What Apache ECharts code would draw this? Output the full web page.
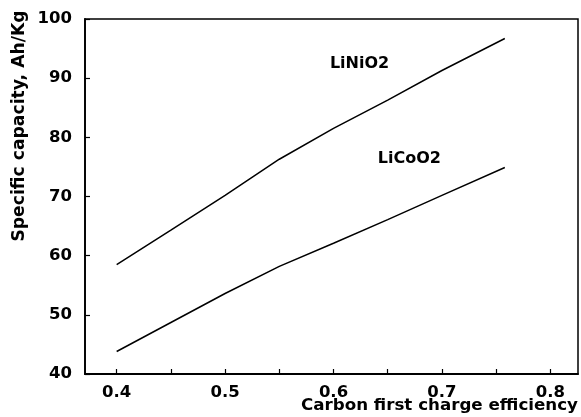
<!DOCTYPE html>
<html>
<head>
<meta charset="utf-8">
<script src="https://cdn.jsdelivr.net/npm/echarts@6/dist/echarts.min.js"></script>
<style>html,body{margin:0;padding:0;background:#fff}#c{width:581px;height:417px}</style>
</head>
<body>
<div id="c"></div>
<script>
const xValues = [0.40, 0.45, 0.50, 0.55, 0.60, 0.65, 0.70, 0.758];
const liNiO2 = [58.5, 64.3, 70.2, 76.3, 81.5, 86.3, 91.3, 96.7];
const liCoO2 = [43.8, 48.7, 53.6, 58.2, 62.1, 66.1, 70.2, 74.9];
const xTickLabels = [0.4, 0.5, 0.6, 0.7, 0.8];
const xMinorTicks = [0.4, 0.45, 0.5, 0.55, 0.6, 0.65, 0.7, 0.75, 0.8];
const yTicks = [40, 50, 60, 70, 80, 90, 100];
const seriesNames = ['LiNiO2', 'LiCoO2'];
const labelPos = [[0.624, 92.4], [0.670, 76.3]];
const xTitle = 'Carbon first charge efficiency';
const yTitle = 'Specific capacity, Ah/Kg';

const FONT = 'DejaVu Sans';
const chart = echarts.init(document.getElementById('c'));
const mk = (vals) => xValues.map((x, i) => [x, vals[i]]);
const lineSeries = (name, vals, pos) => ({
  name, type: 'line', data: mk(vals), symbol: 'none', smooth: false,
  lineStyle: { color: '#000', width: 1.5 },
  markPoint: {
    symbol: 'circle', symbolSize: 0,
    data: [{ coord: pos }],
    label: { show: true, formatter: name, color: '#000', fontFamily: FONT, fontWeight: 'bold', fontSize: 16, position: 'inside' }
  },
  silent: true
});
chart.setOption({
  animation: false,
  grid: { left: 85, right: 3, top: 19, bottom: 43, show: true, borderColor: '#000', borderWidth: 1.5, backgroundColor: 'transparent' },
  xAxis: {
    type: 'value', min: 0.3708, max: 0.8255,
    axisLine: { lineStyle: { color: '#000', width: 1.8 } },
    splitLine: { show: false },
    axisTick: { inside: true, length: 5, lineStyle: { color: '#000', width: 1.2 }, customValues: xMinorTicks },
    axisLabel: { customValues: xTickLabels, formatter: v => v.toFixed(1), color: '#000', fontFamily: FONT, fontWeight: 'bold', fontSize: 16.5, margin: 10 }
  },
  yAxis: {
    type: 'value', min: 40, max: 100, interval: 10,
    axisLine: { show: true, lineStyle: { color: '#000', width: 1.8 } },
    splitLine: { show: false },
    axisTick: { show: true, inside: true, length: 5, lineStyle: { color: '#000', width: 1.2 }, customValues: yTicks },
    axisLabel: { color: '#000', fontFamily: FONT, fontWeight: 'bold', fontSize: 16.5, margin: 13 }
  },
  graphic: [
    { type: 'text', right: 3, top: 397, style: { text: xTitle, fill: '#000', font: 'bold 16.7px "DejaVu Sans"' } },
    { type: 'text', x: 20, y: 126, rotation: Math.PI / 2, style: { text: yTitle, fill: '#000', font: 'bold 17.2px "DejaVu Sans"', textAlign: 'center', textVerticalAlign: 'middle' } }
  ],
  series: [
    lineSeries(seriesNames[0], liNiO2, labelPos[0]),
    lineSeries(seriesNames[1], liCoO2, labelPos[1])
  ]
});
</script>
</body>
</html>
